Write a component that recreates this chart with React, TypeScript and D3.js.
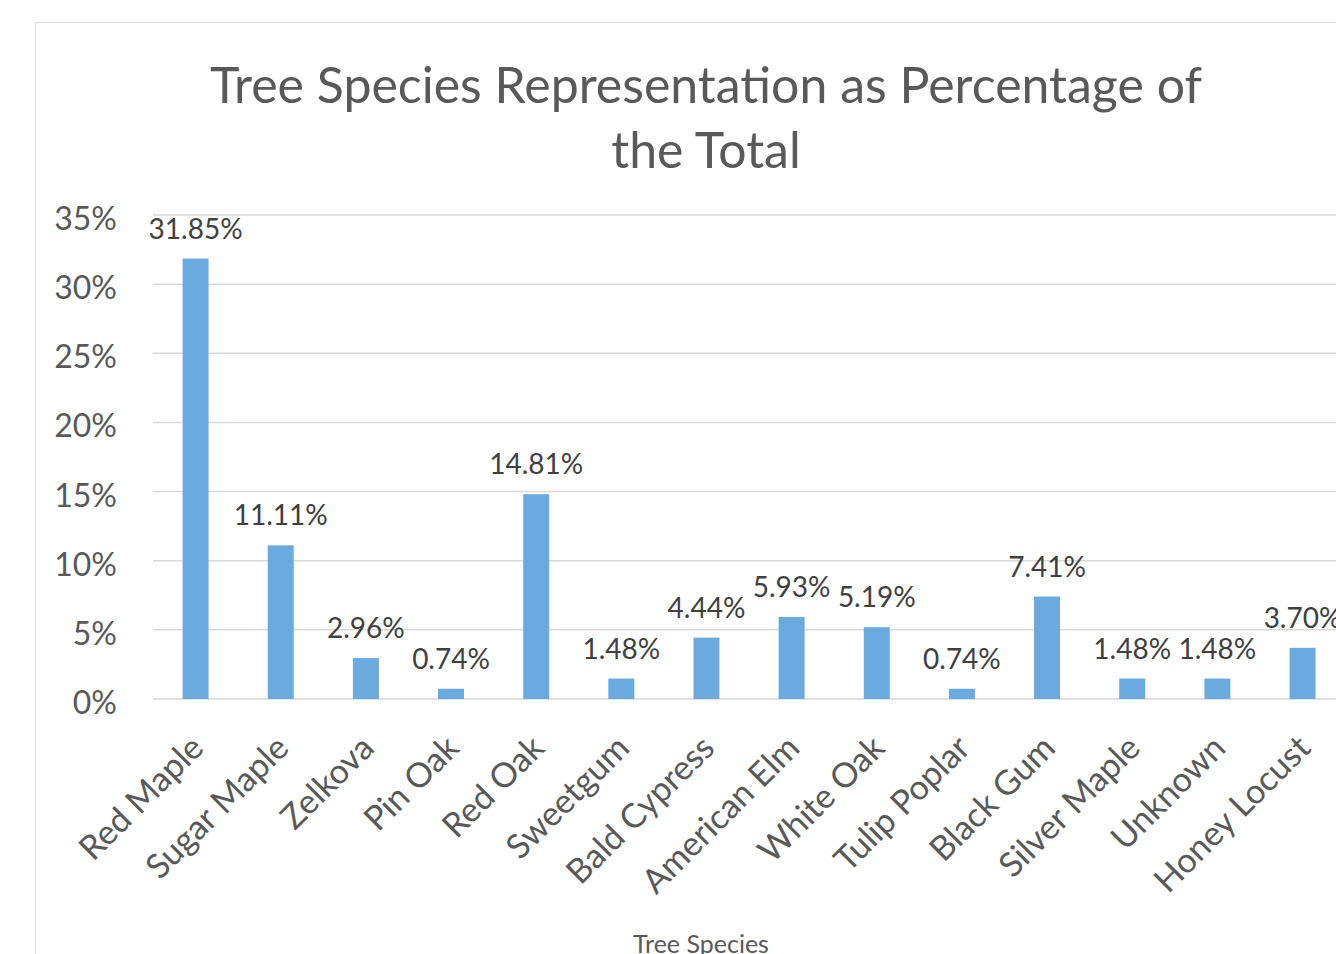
import * as d3 from 'd3';
import React, { useRef, useEffect } from 'react';

const species = ['Red Maple', 'Sugar Maple', 'Zelkova', 'Pin Oak', 'Red Oak', 'Sweetgum', 'Bald Cypress',
  'American Elm', 'White Oak', 'Tulip Poplar', 'Black Gum', 'Silver Maple', 'Unknown', 'Honey Locust'];
const percents = [31.85, 11.11, 2.96, 0.74, 14.81, 1.48, 4.44, 5.93, 5.19, 0.74, 7.41, 1.48, 1.48, 3.70];
const yTicks = [0, 5, 10, 15, 20, 25, 30, 35];

const width = 1336;
const height = 954;
const font = 'Lato, "Open Sans", sans-serif';
const textColor = '#595959';

function BarChart() {
  const ref = useRef<SVGSVGElement>(null);

  useEffect(() => {
    const svg = d3.select(ref.current);
    svg.selectAll('*').remove();

    const left = 153;
    const step = 85.15;

    const x = d3.scaleBand<string>()
      .domain(species)
      .range([left, left + step * species.length])
      .paddingInner(0.695)
      .paddingOuter(0.3475);

    const y = d3.scaleLinear().domain([0, 35]).range([699, 215]);

    // chart border
    svg.append('rect')
      .attr('x', 35.5).attr('y', 22.5)
      .attr('width', 1400).attr('height', 1000)
      .attr('fill', 'white')
      .attr('stroke', '#d9d9d9');

    // title
    svg.append('text')
      .attr('x', 706).attr('y', 103)
      .attr('text-anchor', 'middle')
      .style('font-family', font).style('font-size', '50px')
      .attr('fill', textColor)
      .text('Tree Species Representation as Percentage of');
    svg.append('text')
      .attr('x', 706).attr('y', 168)
      .attr('text-anchor', 'middle')
      .style('font-family', font).style('font-size', '50px')
      .attr('fill', textColor)
      .text('the Total');

    // gridlines + y labels
    const grid = svg.append('g');
    grid.selectAll('line').data(yTicks).enter().append('line')
      .attr('x1', left).attr('x2', width)
      .attr('y1', d => y(d)).attr('y2', d => y(d))
      .attr('stroke', '#d9d9d9').attr('stroke-width', 1.5);
    grid.selectAll('text').data(yTicks).enter().append('text')
      .attr('x', 117).attr('y', d => y(d) + 15)
      .attr('text-anchor', 'end')
      .style('font-family', font).style('font-size', '32px')
      .attr('fill', textColor)
      .text(d => d + '%');

    // bars
    const barg = svg.append('g');
    barg.selectAll('rect').data(percents).enter().append('rect')
      .attr('x', (d, i) => x(species[i])!)
      .attr('y', d => y(d))
      .attr('width', x.bandwidth())
      .attr('height', d => y(0) - y(d))
      .attr('fill', '#6aaade');

    barg.selectAll('text').data(percents).enter().append('text')
      .attr('x', (d, i) => x(species[i])! + x.bandwidth() / 2)
      .attr('y', d => y(d) - 20)
      .attr('text-anchor', 'middle')
      .style('font-family', font).style('font-size', '28px')
      .attr('fill', '#404040')
      .text(d => d3.format('.2f')(d) + '%');

    // category labels
    svg.append('g').selectAll('text').data(species).enter().append('text')
      .attr('transform', d => `translate(${x(d)! + x.bandwidth() / 2 + 10},${750}) rotate(-45)`)
      .attr('text-anchor', 'end')
      .style('font-family', font).style('font-size', '34px')
      .attr('fill', textColor)
      .text(d => d);

    // axis title
    svg.append('text')
      .attr('x', 701).attr('y', 953)
      .attr('text-anchor', 'middle')
      .style('font-family', font).style('font-size', '25px')
      .attr('fill', textColor)
      .text('Tree Species');
  });

  return <svg ref={ref} width={width} height={height} style={{ position: 'absolute', left: 0, top: 0, background: 'white' }} />;
}

export default function App() {
  return <BarChart />;
}
